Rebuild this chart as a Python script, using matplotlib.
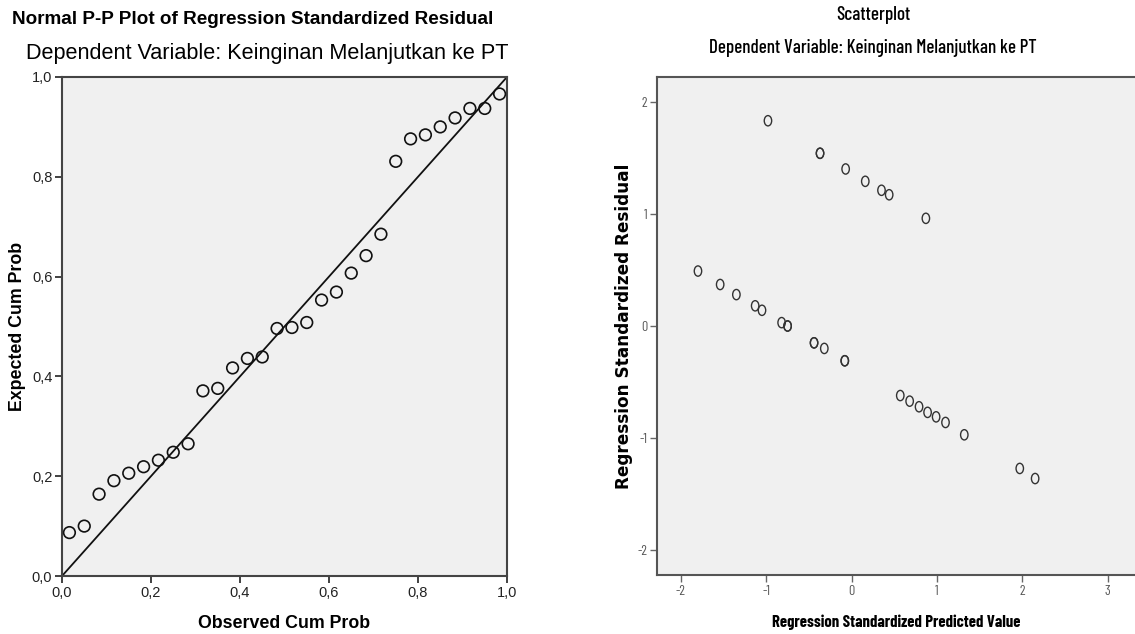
import matplotlib.pyplot as plt
from matplotlib.path import Path
from matplotlib.transforms import Affine2D

# P-P plot data (N = 30)
observed = [(i - 0.5) / 30 for i in range(1, 31)]
expected = [0.087, 0.100, 0.164, 0.191, 0.206, 0.219, 0.232, 0.248, 0.265, 0.371,
            0.376, 0.417, 0.436, 0.439, 0.496, 0.498, 0.508, 0.553, 0.569, 0.607,
            0.642, 0.685, 0.831, 0.876, 0.884, 0.900, 0.918, 0.937, 0.937, 0.966]
pp_ticks = [0.0, 0.2, 0.4, 0.6, 0.8, 1.0]
pp_labels = ["0,0", "0,2", "0,4", "0,6", "0,8", "1,0"]

# scatterplot data
pred = [-0.98, -0.37, -0.37, -0.07, 0.16, 0.35, 0.44, 0.87,
        -1.80, -1.54, -1.35, -1.13, -1.05, -0.82, -0.75, -0.75,
        -0.44, -0.44, -0.32, -0.08, -0.08, 0.57, 0.68, 0.79,
        0.89, 0.99, 1.10, 1.32, 1.97, 2.15]
resid = [1.83, 1.54, 1.54, 1.40, 1.29, 1.21, 1.17, 0.96,
         0.49, 0.37, 0.28, 0.18, 0.14, 0.03, 0.00, 0.00,
         -0.15, -0.15, -0.20, -0.31, -0.31, -0.62, -0.67, -0.72,
         -0.77, -0.81, -0.86, -0.97, -1.27, -1.36]
sc_xticks = [-2, -1, 0, 1, 2, 3]
sc_yticks = [-2, -1, 0, 1, 2]

W, H = 1135, 634
reg = ['Liberation Sans', 'DejaVu Sans']
narrow = ['Barlow Condensed', 'DejaVu Sans']
bg = '#f0f0f0'

fig = plt.figure(figsize=(W / 100, H / 100), dpi=100)


def box(x0, y0, x1, y1):
    return [x0 / W, 1 - y1 / H, (x1 - x0) / W, (y1 - y0) / H]


def ftext(x, y, s, **kw):
    fig.text(x / W, 1 - y / H, s, va='center', **kw)


# ---- left: Normal P-P plot
ax1 = fig.add_axes(box(62, 77, 507, 576))
ax1.set_facecolor(bg)
ax1.plot([0, 1], [0, 1], color='#111111', lw=1.3, zorder=2)
ax1.scatter(observed, expected, s=70, facecolors='none', edgecolors='#111111',
            linewidths=1.2, zorder=3)
ax1.set_xlim(0, 1)
ax1.set_ylim(0, 1)
ax1.set_xticks(pp_ticks)
ax1.set_yticks(pp_ticks)
ax1.set_xticklabels(pp_labels, family=reg, fontsize=10.5, color='#222222')
ax1.set_yticklabels(pp_labels, family=reg, fontsize=10.5, color='#222222')
ax1.tick_params(direction='out', length=5, width=1.3, color='#333333', pad=2)
for sp in ax1.spines.values():
    sp.set_color('#444444')
    sp.set_linewidth(1.5)
ax1.set_xlabel('Observed Cum Prob', family=reg, fontsize=12.8, fontweight='bold',
               labelpad=11)
ax1.set_ylabel('Expected Cum Prob', family=reg, fontsize=12.8, fontweight='bold',
               labelpad=4)

ftext(12, 20, 'Normal P-P Plot of Regression Standardized Residual', ha='left',
      family=reg, fontsize=13.6, fontweight='bold')
ftext(26, 53, 'Dependent Variable: Keinginan Melanjutkan ke PT', ha='left',
      family=reg, fontsize=15.6)

# ---- right: scatterplot
ax2 = fig.add_axes(box(657, 77, 1135, 575))
ax2.set_facecolor(bg)
oval = Path.unit_circle().transformed(Affine2D().scale(0.72, 1.0))
ax2.scatter(pred, resid, s=55, marker=oval, facecolors='none',
            edgecolors='#333333', linewidths=1.0, zorder=3)
ax2.set_xlim(-2.28, 3.32)
ax2.set_ylim(-2.22, 2.22)
ax2.set_xticks(sc_xticks)
ax2.set_yticks(sc_yticks)
ax2.set_xticklabels([str(t) for t in sc_xticks], family=narrow, fontsize=10,
                    color='#555555')
ax2.set_yticklabels([str(t) for t in sc_yticks], family=narrow, fontsize=10,
                    color='#555555')
ax2.tick_params(direction='out', length=5, width=1.0, color='#666666', pad=2)
ax2.spines['right'].set_visible(False)
for k in ['left', 'bottom', 'top']:
    ax2.spines[k].set_color('#555555')
    ax2.spines[k].set_linewidth(1.5)
ax2.set_xlabel('Regression Standardized Predicted Value', family=narrow,
               fontsize=12, fontweight='bold', labelpad=12)
ax2.set_ylabel('Regression Standardized Residual', family='DejaVu Sans',
               fontsize=12.2, fontweight='bold', labelpad=3)

ftext(873, 15, 'Scatterplot', ha='center', family=narrow, fontsize=13.8,
      fontweight='medium')
ftext(873, 48, 'Dependent Variable: Keinginan Melanjutkan ke PT', ha='center',
      family=narrow, fontsize=13.7, fontweight='medium')

fig.savefig('out.png', dpi=100)
